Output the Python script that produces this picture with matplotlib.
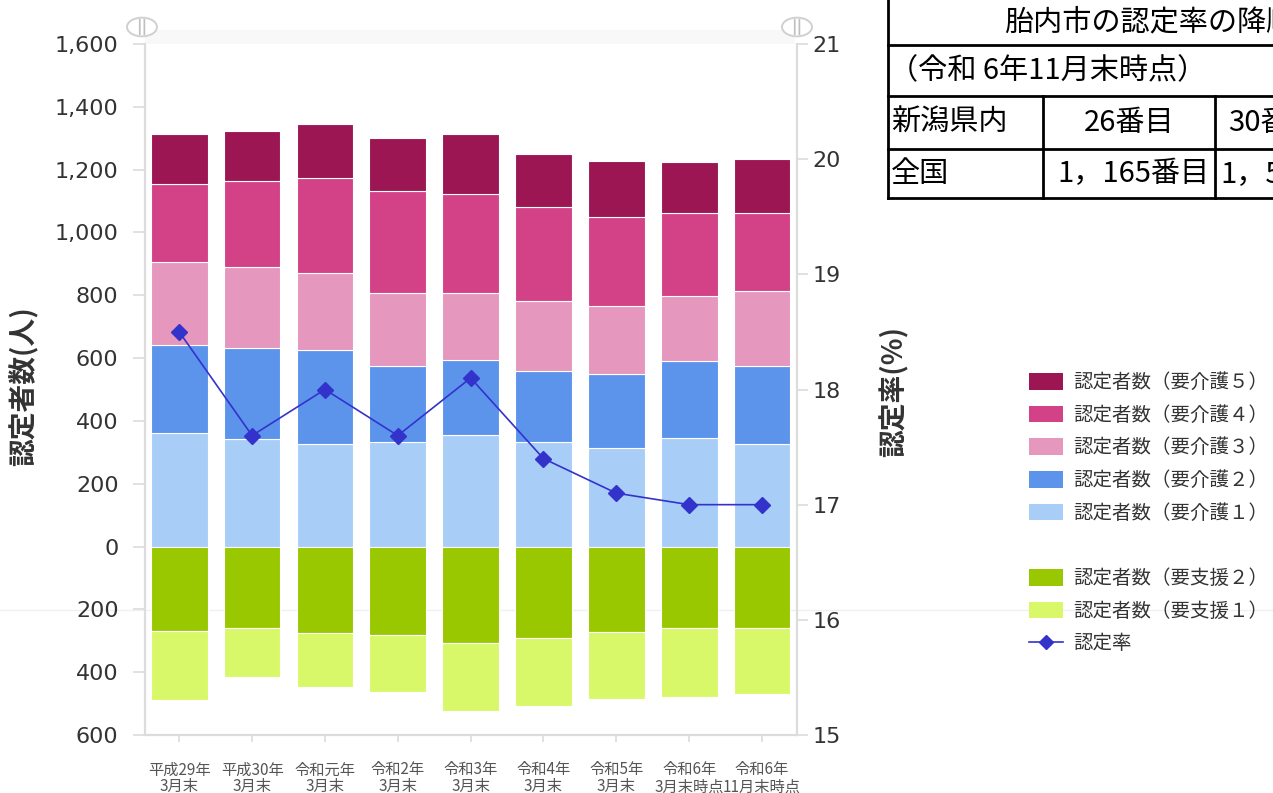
""" Care certification counts (stacked) vs certification rate. """
import numpy as np
import matplotlib
matplotlib.use("Agg")
import matplotlib.pyplot as plt
from matplotlib.patches import Patch, Circle, Rectangle
from matplotlib.lines import Line2D
from matplotlib.ticker import FuncFormatter

W, H = 1273, 793
JP = ["Noto Sans CJK JP", "DejaVu Sans"]

categories = ["平成29年\n3月末", "平成30年\n3月末", "令和元年\n3月末", "令和2年\n3月末",
              "令和3年\n3月末", "令和4年\n3月末", "令和5年\n3月末",
              "令和6年\n3月末時点", "令和6年\n11月末時点"]

care1 = [360, 341, 325, 332, 354, 332, 313, 344, 325]
care2 = [281, 291, 300, 242, 239, 226, 236, 246, 249]
care3 = [265, 258, 246, 233, 214, 223, 217, 207, 239]
care4 = [249, 274, 303, 325, 316, 300, 283, 265, 249]
care5 = [159, 160, 172, 169, 191, 169, 179, 163, 172]
support2 = [268, 258, 274, 281, 306, 290, 271, 258, 258]
support1 = [220, 157, 173, 182, 217, 217, 214, 220, 211]
rate = [18.5, 17.6, 18.0, 17.6, 18.1, 17.4, 17.1, 17.0, 17.0]

care_labels = ["認定者数（要介護５）", "認定者数（要介護４）", "認定者数（要介護３）",
               "認定者数（要介護２）", "認定者数（要介護１）"]
support_labels = ["認定者数（要支援２）", "認定者数（要支援１）"]
rate_label = "認定率"

table_title = "胎内市の認定率の降順"
table_date = "（令和 6年11月末時点）"
table_rows = ["新潟県内", "全国"]
table_rank_a = ["26番目", "1，165番目"]
table_rank_b = ["30番目", "1，5"]

colors_care = ["#A8CEF7", "#5C94EC", "#E597BE", "#D34187", "#9C1654"]
colors_support = ["#99C700", "#D8F86A"]
line_color = "#3333CC"
axis_grey = "#dcdcdc"


def px(x, y):
    """Pixel position -> figure fraction."""
    return x / W, 1 - y / H


def main() -> None:
    """Draw the chart."""
    plt.rcParams['font.family'] = ["DejaVu Sans", "Noto Sans CJK JP"]

    fig = plt.figure(figsize=(W / 100, H / 100), dpi=100)
    fig.patch.set_facecolor("white")

    # faint band above the plot and a faint full-width line
    fig.add_artist(Rectangle(px(145, 44), 650 / W, 14 / H, transform=fig.transFigure,
                             facecolor="#f8f8f8", edgecolor="none", zorder=0))
    fig.add_artist(Line2D([0, 1], [px(0, 610)[1]] * 2, transform=fig.transFigure,
                          color="#f0f0f0", lw=1, zorder=0))

    x0, y0 = px(145, 735)
    x1, y1 = px(797, 44)
    ax = fig.add_axes([x0, y0, x1 - x0, y1 - y0])
    ax.set_facecolor("none")

    x = np.arange(len(categories))
    width = 0.78
    bottom = np.zeros(len(categories))
    for vals, col in zip([care1, care2, care3, care4, care5], colors_care):
        ax.bar(x, vals, width, bottom=bottom, color=col, edgecolor="white", linewidth=0.8)
        bottom += np.array(vals)
    bottom = np.zeros(len(categories))
    for vals, col in zip([support2, support1], colors_support):
        ax.bar(x, -np.array(vals), width, bottom=bottom, color=col,
               edgecolor="white", linewidth=0.8)
        bottom -= np.array(vals)

    ax.set_xlim(-0.47, 8.48)
    ax.set_ylim(-600, 1600)
    ax.set_yticks(np.arange(-600, 1601, 200))
    ax.yaxis.set_major_formatter(FuncFormatter(lambda v, _: f"{abs(int(v)):,}"))
    ax.set_xticks(x)
    ax.set_xticklabels(categories, family=JP, fontsize=11, color="#555555",
                       linespacing=1.0)
    ax.tick_params(axis="y", length=9, width=1.2, color=axis_grey, labelsize=16,
                   labelcolor="#333333", pad=10)
    ax.tick_params(axis="x", length=5, width=1.2, color=axis_grey, pad=14)
    for side in ["top", "right"]:
        ax.spines[side].set_visible(False)
    for side in ["left", "bottom"]:
        ax.spines[side].set_color(axis_grey)
        ax.spines[side].set_linewidth(1.6)

    ax2 = ax.twinx()
    ax2.plot(x, rate, color=line_color, lw=1.2, marker="D", markersize=8,
             markeredgecolor=line_color)
    ax2.set_ylim(15, 21)
    ax2.set_yticks(np.arange(15, 22, 1))
    ax2.tick_params(axis="y", length=8, width=1.2, color=axis_grey, labelsize=16,
                    labelcolor="#333333", pad=3)
    for side in ["top", "left", "bottom"]:
        ax2.spines[side].set_visible(False)
    ax2.spines["right"].set_color(axis_grey)
    ax2.spines["right"].set_linewidth(1.6)

    # axis titles
    fig.text(*px(24, 386), "認定者数(人)", rotation=90, ha="center", va="center",
             family=JP, fontsize=20, fontweight="bold", color="#333333")
    fig.text(*px(894, 392), "認定率(%)", rotation=90, ha="center", va="center",
             family=JP, fontsize=20, fontweight="bold", color="#333333")

    # scroll handles on top of the axes
    for hx in (142, 797):
        fig.add_artist(Circle(px(hx, 27), 15 / W, transform=fig.transFigure,
                              facecolor="white", edgecolor="#d0d0d0", lw=1.4,
                              zorder=5))
        fig.text(*px(hx, 27), "||", ha="center", va="center", fontsize=11,
                 fontweight="bold", color="#c0c0c0", zorder=6)

    # legend
    handles = [Patch(facecolor=c, edgecolor="none") for c in colors_care[::-1]]
    handles += [Patch(facecolor="none", edgecolor="none")]
    handles += [Patch(facecolor=c, edgecolor="none") for c in colors_support]
    handles += [Line2D([], [], color=line_color, lw=1.2, marker="D", markersize=7)]
    labels = care_labels + [""] + support_labels + [rate_label]
    fig.legend(handles, labels, loc="upper left", bbox_to_anchor=px(1029, 372),
               frameon=False, borderpad=0, borderaxespad=0, handlelength=1.75,
               handleheight=0.95, handletextpad=0.5, labelspacing=0.6,
               prop={"family": JP, "size": 14}, labelcolor="#333333")

    # ranking table (cut off at the right edge)
    lw = 2
    tl = dict(transform=fig.transFigure, color="black", lw=lw)
    for yy in (45, 96, 149, 198):
        fig.add_artist(Line2D([px(888, 0)[0], 1.0], [px(0, yy)[1]] * 2, **tl))
    fig.add_artist(Line2D([px(888, 0)[0]] * 2, [1.0, px(0, 198)[1]], **tl))
    for xx in (1043, 1215):
        fig.add_artist(Line2D([px(xx, 0)[0]] * 2, [px(0, 96)[1], px(0, 198)[1]], **tl))

    tkw = dict(family=JP, fontsize=21, color="black", va="center")
    fig.text(*px(1004, 22), table_title, ha="left", **tkw)
    fig.text(*px(889, 71), table_date, ha="left", **tkw)
    for i, yy in enumerate((123, 174)):
        fig.text(*px(891, yy), table_rows[i], ha="left", **tkw)
        if i == 0:
            fig.text(*px(1129, yy), table_rank_a[i], ha="center", **tkw)
        else:
            fig.text(*px(1210, yy), table_rank_a[i], ha="right", **tkw)
        fig.text(*px(1228 if i == 0 else 1220, yy), table_rank_b[i], ha="left", **tkw)

    fig.savefig("out.png", dpi=100)
    plt.close(fig)


if __name__ == "__main__":
    main()
